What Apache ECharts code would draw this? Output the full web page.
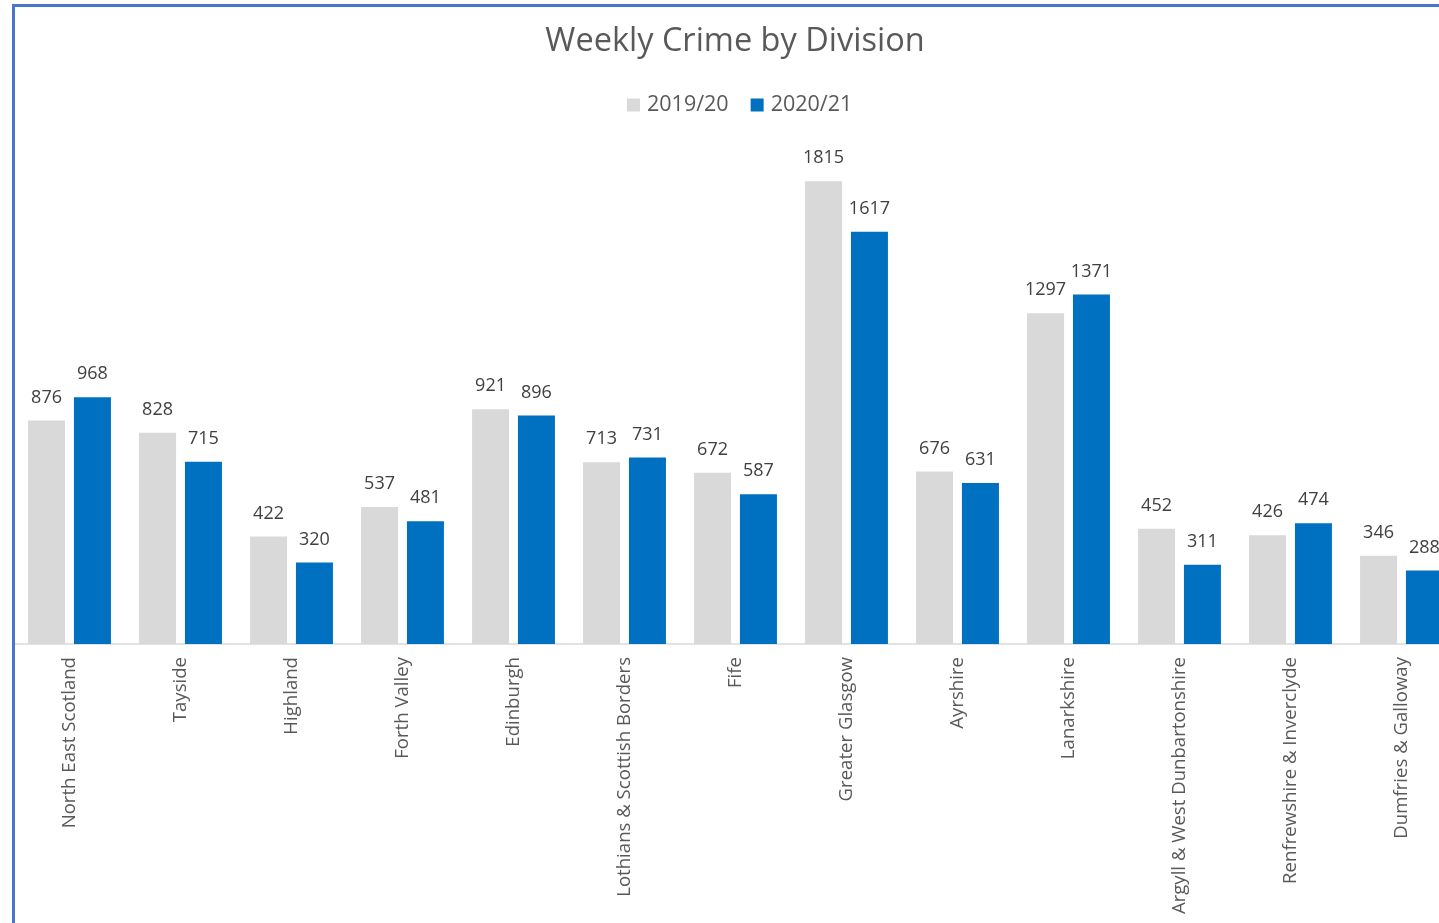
<!DOCTYPE html>
<html>
<head>
<meta charset="utf-8">
<script src="https://cdn.jsdelivr.net/npm/echarts@6/dist/echarts.min.js"></script>
<style>
html,body{margin:0;padding:0;overflow:hidden;background:#fff;width:1439px;height:923px;}
#chart{position:absolute;left:0;top:0;width:1470px;height:923px;}
#frame{position:absolute;left:12px;top:4px;width:1500px;height:1000px;border:3px solid #4a76c9;box-sizing:border-box;pointer-events:none;}
</style>
</head>
<body>
<div id="chart"></div>
<div id="frame"></div>
<script>
const categories = ["North East Scotland","Tayside","Highland","Forth Valley","Edinburgh","Lothians & Scottish Borders","Fife","Greater Glasgow","Ayrshire","Lanarkshire","Argyll & West Dunbartonshire","Renfrewshire & Inverclyde","Dumfries & Galloway"];
const series2019 = [876,828,422,537,921,713,672,1815,676,1297,452,426,346];
const series2020 = [968,715,320,481,896,731,587,1617,631,1371,311,474,288];
const seriesNames = ["2019/20","2020/21"];

const chart = echarts.init(document.getElementById('chart'));
const font = '"Open Sans", sans-serif';
const labelCfg = {show:true, position:'top', distance:14, color:'#404040', fontSize:18, fontFamily:font};
chart.setOption({
  animation:false,
  title:{text:'Weekly Crime by Division', left:'center', top:20, textStyle:{color:'#595959', fontSize:32.5, fontWeight:'normal', fontFamily:font}},
  legend:{top:94, left:627, padding:0, itemWidth:13, itemHeight:13, itemGap:22, icon:'rect',
    textStyle:{color:'#595959', fontSize:21.5, fontFamily:font, padding:[0,0,0,2]}, data:seriesNames},
  grid:{left:14, right:13, top:134, bottom:279, containLabel:false},
  xAxis:{type:'category', data:categories,
    axisLine:{lineStyle:{color:'#d9d9d9', width:1.5}}, axisTick:{show:false},
    axisLabel:{rotate:90, interval:0, margin:13, color:'#595959', fontSize:18.6, fontFamily:font}},
  yAxis:{type:'value', min:0, max:2000, show:false, splitLine:{show:false}},
  series:[
    {name:seriesNames[0], type:'bar', data:series2019, barWidth:37, barGap:'24%', itemStyle:{color:'#d9d9d9'}, label:labelCfg},
    {name:seriesNames[1], type:'bar', data:series2020, barWidth:37, barGap:'24%', itemStyle:{color:'#0070c0'}, label:labelCfg}
  ]
});
</script>
</body>
</html>
